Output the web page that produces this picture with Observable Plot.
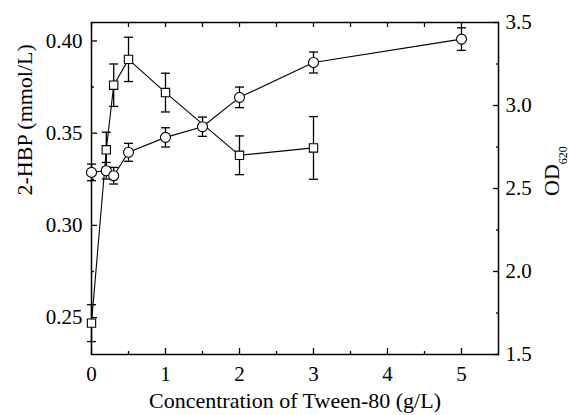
<!DOCTYPE html>
<html><head><meta charset="utf-8">
<script src="https://cdn.jsdelivr.net/npm/d3@7"></script>
<script src="https://cdn.jsdelivr.net/npm/@observablehq/plot@0.6"></script>
<style>body{margin:0;background:#fff;} svg text{font-family:"Liberation Serif","Times New Roman",serif !important;}</style>
</head><body><div id="chart"></div>
<script>
// 2-HBP (left axis, squares)
const hbpX = [0, 0.2, 0.3, 0.5, 1, 2, 3];
const hbp = [0.247, 0.341, 0.376, 0.390, 0.372, 0.338, 0.342];
const hbpErr = [0.010, 0.0095, 0.0115, 0.012, 0.0105, 0.0105, 0.017];
// OD620 (right axis, circles)
const odX = [0, 0.2, 0.3, 0.5, 1, 1.5, 2, 3, 5];
const od = [2.597, 2.607, 2.577, 2.718, 2.808, 2.872, 3.049, 3.259, 3.400];
const odErr = [0.05, 0.05, 0.05, 0.054, 0.058, 0.058, 0.062, 0.063, 0.068];
// ticks
const xTicks = [0, 1, 2, 3, 4, 5];
const xMinor = [0.5, 1.5, 2.5, 3.5, 4.5];
const yLeftTicks = [0.25, 0.30, 0.35, 0.40];
const yLeftMinor = [0.275, 0.325, 0.375];
const yRightTicks = [1.5, 2.0, 2.5, 3.0, 3.5];
const yRightMinor = [1.75, 2.25, 2.75, 3.25];
const xDomain = [0, 5.5];
const leftDomain = [0.23, 0.41];
const rightDomain = [1.5, 3.5];

const toLeft = v => leftDomain[0] + (v - rightDomain[0]) * (leftDomain[1] - leftDomain[0]) / (rightDomain[1] - rightDomain[0]);
const fromLeft = v => rightDomain[0] + (v - leftDomain[0]) * (rightDomain[1] - rightDomain[0]) / (leftDomain[1] - leftDomain[0]);

const hbpData = hbpX.map((x, i) => ({x, y: hbp[i], lo: hbp[i] - hbpErr[i], hi: hbp[i] + hbpErr[i]}));
const odData = odX.map((x, i) => ({x, y: toLeft(od[i]), lo: toLeft(od[i] - odErr[i]), hi: toLeft(od[i] + odErr[i])}));

const cap = {draw(ctx, size) { const w = Math.sqrt(size / Math.PI); ctx.moveTo(-w, 0); ctx.lineTo(w, 0); }};
const blank = () => "";
const sw = 1.3;
const serif = "'Liberation Serif', 'Times New Roman', serif";

const chart = Plot.plot({
  width: 572, height: 415,
  marginLeft: 91, marginRight: 74, marginTop: 22, marginBottom: 61,
  style: {fontFamily: serif, fontSize: "21px", color: "#000", background: "#fff"},
  x: {domain: xDomain},
  y: {domain: leftDomain},
  marks: [
    Plot.axisX({anchor: "bottom", ticks: xTicks, tickSize: -6, tickPadding: 18, tickFormat: d => String(d), label: null, strokeWidth: sw}),
    Plot.axisX({anchor: "bottom", ticks: xMinor, tickSize: -3, tickPadding: 0, tickFormat: blank, label: null, strokeWidth: sw}),
    Plot.axisX({anchor: "top", ticks: [...xTicks, ...xMinor], tickSize: -4, tickPadding: 0, tickFormat: blank, label: null, strokeWidth: sw}),
    Plot.axisY({anchor: "left", ticks: yLeftTicks, tickSize: -6, tickPadding: 15, tickFormat: d3.format(".2f"), label: null, strokeWidth: sw}),
    Plot.axisY({anchor: "left", ticks: yLeftMinor, tickSize: -3, tickPadding: 0, tickFormat: blank, label: null, strokeWidth: sw}),
    Plot.axisY({anchor: "right", ticks: yRightTicks.map(toLeft), tickSize: -6, tickPadding: 13, tickFormat: d => fromLeft(d).toFixed(1), label: null, strokeWidth: sw}),
    Plot.axisY({anchor: "right", ticks: yRightMinor.map(toLeft), tickSize: -3, tickPadding: 0, tickFormat: blank, label: null, strokeWidth: sw}),
    Plot.frame({stroke: "#000", strokeWidth: 1.5}),
    // error bars
    Plot.ruleX(hbpData, {x: "x", y1: "lo", y2: "hi", stroke: "#000", strokeWidth: sw}),
    Plot.dot(hbpData, {x: "x", y: "lo", symbol: cap, r: 4.5, fill: "none", stroke: "#000", strokeWidth: sw}),
    Plot.dot(hbpData, {x: "x", y: "hi", symbol: cap, r: 4.5, fill: "none", stroke: "#000", strokeWidth: sw}),
    Plot.ruleX(odData, {x: "x", y1: "lo", y2: "hi", stroke: "#000", strokeWidth: sw}),
    Plot.dot(odData, {x: "x", y: "lo", symbol: cap, r: 4.5, fill: "none", stroke: "#000", strokeWidth: sw}),
    Plot.dot(odData, {x: "x", y: "hi", symbol: cap, r: 4.5, fill: "none", stroke: "#000", strokeWidth: sw}),
    // lines
    Plot.line(hbpData, {x: "x", y: "y", stroke: "#000", strokeWidth: 1.1}),
    Plot.line(odData, {x: "x", y: "y", stroke: "#000", strokeWidth: 1.1}),
    // markers
    Plot.dot(hbpData, {x: "x", y: "y", symbol: "square", r: 4.7, fill: "#fff", stroke: "#000", strokeWidth: 1.1}),
    Plot.dot(odData, {x: "x", y: "y", symbol: "circle", r: 5, fill: "#fff", stroke: "#000", strokeWidth: 1.1}),
    // axis titles
    Plot.text([0], {frameAnchor: "left", text: () => "2-HBP (mmol/L)", rotate: -90, dx: -67, dy: 7, fontSize: 22}),
    Plot.text([0], {frameAnchor: "bottom", text: () => "Concentration of Tween-80 (g/L)", dy: 53, fontSize: 22})
  ]
});

const svg = d3.select(chart);
const t = svg.append("text")
  .attr("transform", "translate(559,196) rotate(-90)")
  .attr("font-size", 22)
  .attr("fill", "#000")
  .attr("text-anchor", "start");
t.append("tspan").text("OD");
t.append("tspan").attr("font-size", 12).attr("dy", 8).text("620");
svg.selectAll("text").attr("font-family", serif);

document.getElementById("chart").appendChild(chart);
</script>
</body></html>
